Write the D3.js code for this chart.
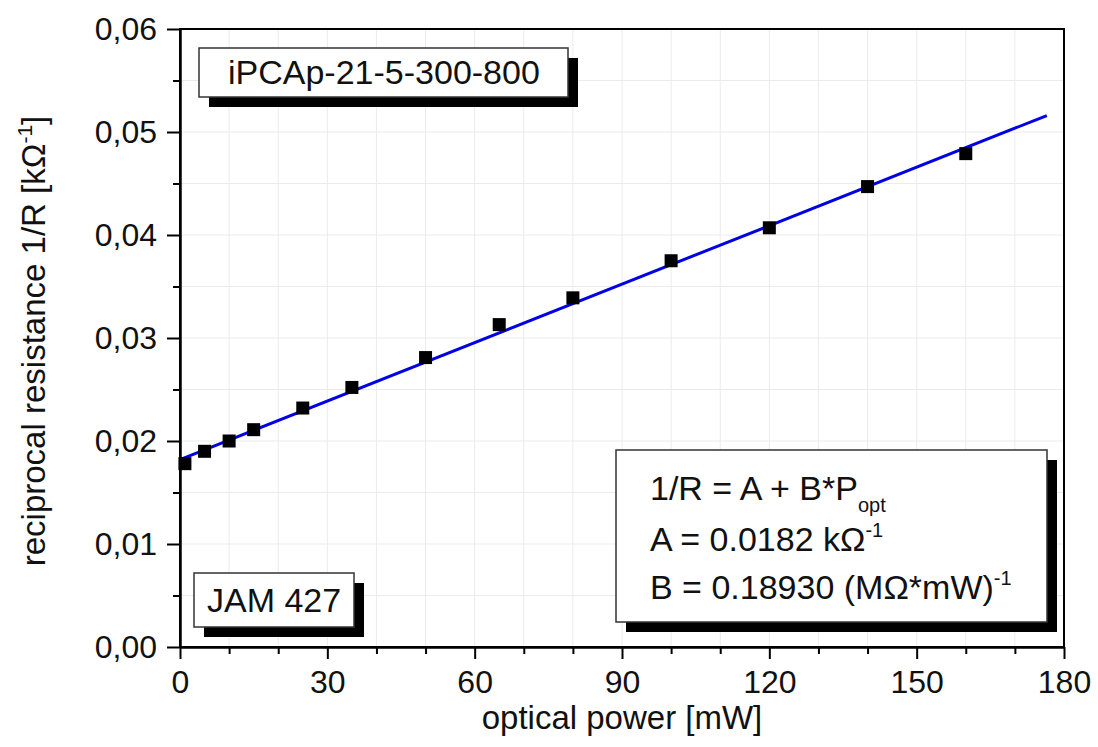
<!DOCTYPE html>
<html>
<head>
<meta charset="utf-8">
<script src="https://cdn.jsdelivr.net/npm/d3@7"></script>
<style>
    body { margin: 0; background: #ffffff; }
    svg { display: block; font-family: "Liberation Sans", Arial, sans-serif; }
</style>
</head>
<body>
<div class="chart"></div>
<script>
"use strict";

// measured points (optical power in mW, 1/R in 1/kOhm)
var powerValues = [1, 5, 10, 15, 25, 35, 50, 65, 80, 100, 120, 140, 160];
var conductValues = [0.0178, 0.0190, 0.0200, 0.0211, 0.0232, 0.0252, 0.0281, 0.0313, 0.0339, 0.0375, 0.0407, 0.0447, 0.0479];

// linear fit line end points
var fitPower = [0, 176.5];
var fitConduct = [0.0182, 0.0516];

// axis ticks
var xMajorTicks = [0, 30, 60, 90, 120, 150, 180];
var xMinorTicks = [10, 20, 40, 50, 70, 80, 100, 110, 130, 140, 160, 170];
var yMajorTicks = [0, 0.01, 0.02, 0.03, 0.04, 0.05, 0.06];
var yMinorTicks = [0.005, 0.015, 0.025, 0.035, 0.045, 0.055];

renderChart();

function renderChart() {
    var width = 1098;
    var height = 747;
    var margin = { top: 29, right: 34, bottom: 100, left: 180 };
    var innerW = width - margin.left - margin.right;
    var innerH = height - margin.top - margin.bottom;

    var lineColor = "#0000e6";
    var gridColor = "#ebebeb";

    var x = d3.scaleLinear().domain([0, 180]).range([0, innerW]);
    var y = d3.scaleLinear().domain([0, 0.06]).range([innerH, 0]);

    var svg = d3.select(".chart").append("svg")
        .attr("width", width)
        .attr("height", height);

    var g = svg.append("g")
        .attr("transform", "translate(" + margin.left + "," + margin.top + ")");

    // light grid at every major and minor tick
    var xGrid = xMajorTicks.concat(xMinorTicks);
    var yGrid = yMajorTicks.concat(yMinorTicks);

    g.selectAll(".vgrid")
        .data(xGrid)
        .enter().append("line")
        .attr("x1", function (d) { return x(d); })
        .attr("x2", function (d) { return x(d); })
        .attr("y1", 0)
        .attr("y2", innerH)
        .style("stroke", gridColor)
        .style("stroke-width", 1);

    g.selectAll(".hgrid")
        .data(yGrid)
        .enter().append("line")
        .attr("x1", 0)
        .attr("x2", innerW)
        .attr("y1", function (d) { return y(d); })
        .attr("y2", function (d) { return y(d); })
        .style("stroke", gridColor)
        .style("stroke-width", 1);

    // frame on top and right
    g.append("rect")
        .attr("x", 0)
        .attr("y", 0)
        .attr("width", innerW)
        .attr("height", innerH)
        .style("fill", "none")
        .style("stroke", "#000")
        .style("stroke-width", 2);

    // X axis (major + minor)
    g.append("g")
        .attr("transform", "translate(0," + innerH + ")")
        .call(d3.axisBottom(x).tickValues(xMajorTicks).tickSize(12).tickPadding(11).tickSizeOuter(0));
    g.append("g")
        .attr("transform", "translate(0," + innerH + ")")
        .call(d3.axisBottom(x).tickValues(xMinorTicks).tickSize(7).tickFormat("").tickSizeOuter(0));

    // Y axis (major + minor)
    var fmt = d3.format(".2f");
    g.append("g")
        .call(d3.axisLeft(y).tickValues(yMajorTicks).tickSize(13).tickPadding(10).tickSizeOuter(0)
            .tickFormat(function (d) { return fmt(d).replace(".", ","); }));
    g.append("g")
        .call(d3.axisLeft(y).tickValues(yMinorTicks).tickSize(7).tickFormat("").tickSizeOuter(0));

    svg.selectAll(".domain").style("stroke", "#000").style("stroke-width", 2);
    svg.selectAll(".tick line").style("stroke", "#000").style("stroke-width", 2);
    svg.selectAll(".tick text")
        .style("font-family", "'Liberation Sans', Arial, sans-serif")
        .style("font-size", "32px")
        .style("fill", "#111");

    // fit line
    var fitData = fitPower.map(function (p, i) { return { p: p, c: fitConduct[i] }; });
    var fitLine = d3.line()
        .x(function (d) { return x(d.p); })
        .y(function (d) { return y(d.c); });

    g.append("path")
        .datum(fitData)
        .attr("d", fitLine)
        .style("stroke", lineColor)
        .style("stroke-width", 3)
        .style("fill", "none");

    // data squares
    var pts = powerValues.map(function (p, i) { return { p: p, c: conductValues[i] }; });
    var sq = 13;
    g.selectAll(".pt")
        .data(pts)
        .enter().append("rect")
        .attr("x", function (d) { return x(d.p) - sq / 2; })
        .attr("y", function (d) { return y(d.c) - sq / 2; })
        .attr("width", sq)
        .attr("height", sq)
        .style("fill", "#000");

    // axis titles
    svg.append("text")
        .attr("x", margin.left + innerW / 2)
        .attr("y", 729)
        .attr("text-anchor", "middle")
        .style("font-size", "33px")
        .style("fill", "#111")
        .text("optical power [mW]");

    var yTitle = svg.append("text")
        .attr("transform", "translate(45,341) rotate(-90)")
        .attr("text-anchor", "middle")
        .style("font-size", "33px")
        .style("fill", "#111");
    yTitle.append("tspan").text("reciprocal resistance 1/R [kΩ");
    yTitle.append("tspan").attr("dy", -13).style("font-size", "21px").text("-1");
    yTitle.append("tspan").attr("dy", 13).text("]");

    // label boxes with drop shadows
    drawBox(svg, 199, 48, 369, 49, 10);
    svg.append("text")
        .attr("x", 228)
        .attr("y", 84)
        .style("font-size", "34px")
        .style("fill", "#111")
        .text("iPCAp-21-5-300-800");

    drawBox(svg, 194, 573, 160, 54, 10);
    svg.append("text")
        .attr("x", 207)
        .attr("y", 612)
        .style("font-size", "34px")
        .style("fill", "#111")
        .text("JAM 427");

    drawBox(svg, 616, 450, 431, 172, 10);
    var t1 = svg.append("text")
        .attr("x", 650)
        .attr("y", 500)
        .style("font-size", "34px")
        .style("fill", "#111");
    t1.append("tspan").text("1/R = A + B*P");
    t1.append("tspan").attr("dy", 12).style("font-size", "20px").text("opt");

    var t2 = svg.append("text")
        .attr("x", 650)
        .attr("y", 551)
        .style("font-size", "34px")
        .style("fill", "#111");
    t2.append("tspan").text("A = 0.0182 kΩ");
    t2.append("tspan").attr("dy", -14).style("font-size", "20px").text("-1");

    var t3 = svg.append("text")
        .attr("x", 650)
        .attr("y", 599)
        .style("font-size", "34px")
        .style("fill", "#111");
    t3.append("tspan").text("B = 0.18930 (MΩ*mW)");
    t3.append("tspan").attr("dy", -14).style("font-size", "20px").text("-1");
}

function drawBox(svg, bx, by, bw, bh, off) {
    // shadow first, then the white box on top
    svg.append("rect")
        .attr("x", bx + off)
        .attr("y", by + off)
        .attr("width", bw)
        .attr("height", bh)
        .style("fill", "#000");
    svg.append("rect")
        .attr("x", bx)
        .attr("y", by)
        .attr("width", bw)
        .attr("height", bh)
        .style("fill", "#fff")
        .style("stroke", "#333")
        .style("stroke-width", 1.5);
}
</script>
</body>
</html>
